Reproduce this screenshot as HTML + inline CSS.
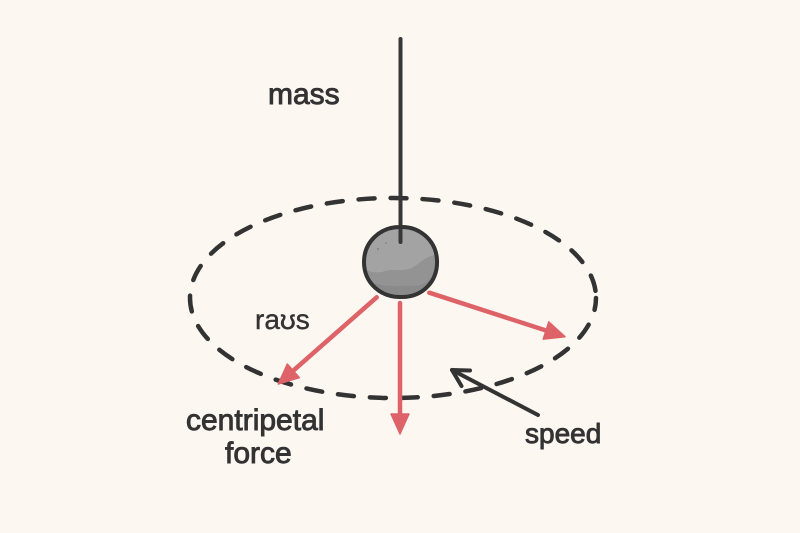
<!DOCTYPE html>
<html>
<head>
<meta charset="utf-8">
<style>
  html,body{margin:0;padding:0;background:#fcf7f1;}
  svg{display:block;}
  text{font-family:"Liberation Sans","DejaVu Sans",sans-serif;fill:#333;stroke:#333;stroke-width:0.9px;}
</style>
</head>
<body>
<svg width="800" height="533" viewBox="0 0 800 533" xmlns="http://www.w3.org/2000/svg">
  <rect x="0" y="0" width="800" height="533" fill="#fcf7f1"/>

  <!-- dashed orbit ellipse -->
  <ellipse cx="393" cy="298" rx="203" ry="100" fill="none" stroke="#333" stroke-width="4.5" stroke-linecap="round" stroke-dasharray="16 16" stroke-dashoffset="4"/>

  <!-- vertical string -->
  <line x1="400.5" y1="39" x2="400.5" y2="242" stroke="#383838" stroke-width="4" stroke-linecap="round"/>

  <!-- ball -->
  <path d="M400 227 C419 226 436 240 437 260 C438 281 423 297 402 297 C381 298 364 283 364 262 C364 242 380 227 400 227 Z" fill="#939393"/>
  <path d="M366 262 C366 243 381 229 400 229 C418 229 431 240 435 255 C427 256 421 262 412 268 C402 272 392 268 382 272 C376 273 370 272 366 270 Z" fill="#a3a3a3"/>
  <path d="M372 282 C385 288 400 285 415 286 C425 285 430 280 433 276 C428 288 416 296 402 296 C388 296 378 290 372 282 Z" fill="#8a8a8a"/>
  <circle cx="378" cy="249" r="1.2" fill="#888"/>
  <circle cx="386" cy="243" r="0.9" fill="#888"/>
  <line x1="400.5" y1="230" x2="400.5" y2="242" stroke="#383838" stroke-width="4" stroke-linecap="round"/>
  <path d="M400 227 C419 226 436 240 437 260 C438 281 423 297 402 297 C381 298 364 283 364 262 C364 242 380 227 400 227 Z" fill="none" stroke="#333" stroke-width="4"/>

  <!-- red arrows -->
  <g stroke="#de6369" stroke-width="4.5" stroke-linecap="round" fill="#de6369">
    <line x1="376.7" y1="297.3" x2="294" y2="370"/>
    <polygon points="278.3,384 299.3,377.6 287.3,364" stroke-width="1.5" stroke-linejoin="round"/>
    <line x1="400" y1="303" x2="400" y2="415"/>
    <polygon points="400,434 391,414 409,414" stroke-width="1.5" stroke-linejoin="round"/>
    <line x1="429.3" y1="292.7" x2="546" y2="330.5"/>
    <polygon points="565,336.7 543.2,339.1 548.8,321.9" stroke-width="1.5" stroke-linejoin="round"/>
  </g>

  <!-- speed arrow -->
  <g stroke="#333" stroke-width="4" stroke-linecap="round" stroke-linejoin="round" fill="none">
    <line x1="538" y1="415" x2="452" y2="370"/>
    <polyline points="470,370.5 452,370 461.5,386"/>
  </g>

  <!-- labels -->
  <text x="268" y="104" font-size="30">mass</text>
  <text x="255" y="329" font-size="28" style="stroke-width:0.4px">raʊs</text>
  <text x="186" y="430" font-size="30">centripetal</text>
  <text x="225" y="463" font-size="30">force</text>
  <text x="525" y="443" font-size="28">speed</text>
</svg>
</body>
</html>
